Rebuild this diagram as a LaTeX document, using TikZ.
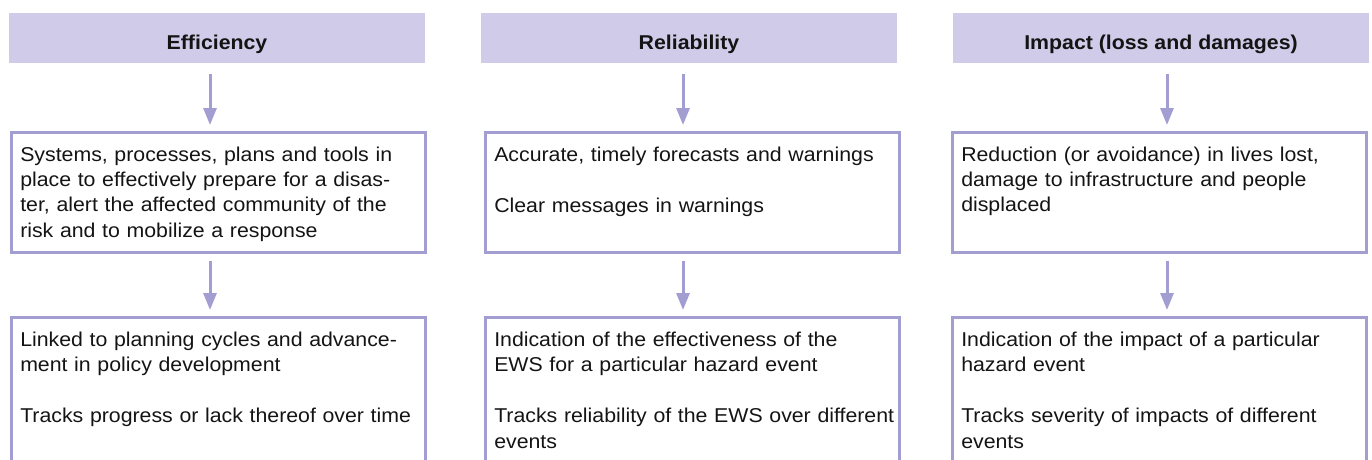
\documentclass[tikz,border=0pt]{standalone}
\usepackage{fontspec}
\setmainfont[FakeStretch=1.065]{Liberation Sans}
\usetikzlibrary{arrows.meta}
\definecolor{hdrfill}{HTML}{CFCBE8}
\definecolor{edge}{HTML}{A29ED2}
\definecolor{ink}{HTML}{141414}
\begin{document}
\begin{tikzpicture}[x=1pt,y=-1pt,
  header/.style={fill=hdrfill, minimum width=416pt, minimum height=50pt,
    inner sep=0pt, text height=22pt, text depth=0pt,
    font=\fontsize{20pt}{24pt}\selectfont\bfseries, text=ink},
  card/.style={draw=edge, line width=2.5pt, anchor=north west,
    inner xsep=9pt, inner ysep=0pt, text width=396pt, align=left,
    text height=29pt, font=\fontsize{20pt}{25.3pt}\selectfont, text=ink},
  toprow/.style={card, text depth=91pt},
  lowrow/.style={card, text depth=171pt},
  flow/.style={draw=edge, line width=3pt, -{Triangle[width=13pt,length=17pt]}}
]
\useasboundingbox (0,0) rectangle (1372,459);
\clip (0,0) rectangle (1372,459);

% column headers
\node[header] (h1) at (217,38) {Efficiency};
\node[header] (h2) at (689,38) {Reliability};
\node[header] (h3) at (1161,38) {Impact (loss and damages)};

% what each measure covers
\node[toprow] (t1) at (10,131) {\mbox{Systems, processes, plans and tools in}\\
  \mbox{place to effectively prepare for a disas-}\\
  \mbox{ter, alert the affected community of the}\\
  \mbox{risk and to mobilize a response}};
\node[toprow] (t2) at (484,131) {\mbox{Accurate, timely forecasts and warnings}\\[26pt]
  \mbox{Clear messages in warnings}};
\node[toprow] (t3) at (951,131) {\mbox{Reduction (or avoidance) in lives lost,}\\
  \mbox{damage to infrastructure and people}\\
  \mbox{displaced}};

% what each measure tells us
\node[lowrow] (l1) at (10,316) {\mbox{Linked to planning cycles and advance-}\\
  \mbox{ment in policy development}\\[26pt]
  \mbox{Tracks progress or lack thereof over time}};
\node[lowrow] (l2) at (484,316) {\mbox{Indication of the effectiveness of the}\\
  \mbox{EWS for a particular hazard event}\\[26pt]
  \mbox{Tracks reliability of the EWS over different}\\
  \mbox{events}};
\node[lowrow] (l3) at (951,316) {\mbox{Indication of the impact of a particular}\\
  \mbox{hazard event}\\[26pt]
  \mbox{Tracks severity of impacts of different}\\
  \mbox{events}};

% downward arrows
\draw[flow, shorten <=11pt, shorten >=6pt] ([xshift=-7pt]h1.south) -- ([xshift=-7pt]h1.south |- t1.north);
\draw[flow, shorten <=11pt, shorten >=6pt] ([xshift=-6pt]h2.south) -- ([xshift=-6pt]h2.south |- t2.north);
\draw[flow, shorten <=11pt, shorten >=6pt] ([xshift=6pt]h3.south) -- ([xshift=6pt]h3.south |- t3.north);
\draw[flow, shorten <=7pt, shorten >=6pt] ([xshift=-7pt]h1.south |- t1.south) -- ([xshift=-7pt]h1.south |- l1.north);
\draw[flow, shorten <=7pt, shorten >=6pt] ([xshift=-6pt]h2.south |- t2.south) -- ([xshift=-6pt]h2.south |- l2.north);
\draw[flow, shorten <=7pt, shorten >=6pt] ([xshift=6pt]h3.south |- t3.south) -- ([xshift=6pt]h3.south |- l3.north);
\end{tikzpicture}
\end{document}
